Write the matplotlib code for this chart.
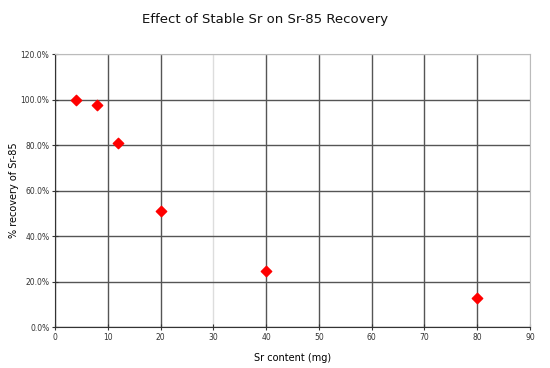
import matplotlib
matplotlib.use("Agg")
import matplotlib.pyplot as plt
from matplotlib.ticker import PercentFormatter, FixedLocator
import numpy as np

sr_content_mg = [4, 8, 12, 20, 40, 80]
recovery = [1.00, 0.978, 0.81, 0.512, 0.246, 0.126]
x_ticks = [0, 10, 20, 30, 40, 50, 60, 70, 80, 90]
y_ticks = [0.0, 0.2, 0.4, 0.6, 0.8, 1.0, 1.2]

fig = plt.figure(figsize=(5.5, 3.68), dpi=100)
ax = fig.add_axes([0.1, 0.1114, 0.8636, 0.7418])

ax.scatter(sr_content_mg, recovery, marker="D", s=28, color="#ff0000",
           edgecolors="#ff0000", zorder=3)

ax.set_xlim(0, 90)
ax.set_ylim(0, 1.2)
ax.xaxis.set_major_locator(FixedLocator(x_ticks))
ax.yaxis.set_major_locator(FixedLocator(y_ticks))
ax.yaxis.set_major_formatter(PercentFormatter(1.0, decimals=1))

ax.grid(True, color="#555555", linewidth=1.0)
ax.set_axisbelow(True)
fig.canvas.draw()
for t, gl in zip(ax.get_xticks(), ax.get_xgridlines()):
    if np.isclose(t, 30) or np.isclose(t, 90):
        gl.set_color("#dddddd")
for t, gl in zip(ax.get_yticks(), ax.get_ygridlines()):
    if np.isclose(t, 1.2):
        gl.set_color("#cccccc")

for side in ("top", "right"):
    ax.spines[side].set_color("#bbbbbb")
for side in ("left", "bottom"):
    ax.spines[side].set_color("#333333")

ax.tick_params(axis="both", labelsize=5.5, colors="#333333", length=4,
               width=0.8, direction="inout", pad=2)

fig.text(265 / 550, 1 - 20 / 368, "Effect of Stable Sr on Sr-85 Recovery",
         fontsize=9.5, ha="center", va="center", color="#111111")
ax.set_xlabel("Sr content (mg)", fontsize=7, labelpad=8)
ax.set_ylabel("% recovery of Sr-85", fontsize=7, labelpad=1)

fig.savefig("out.png", dpi=100)
